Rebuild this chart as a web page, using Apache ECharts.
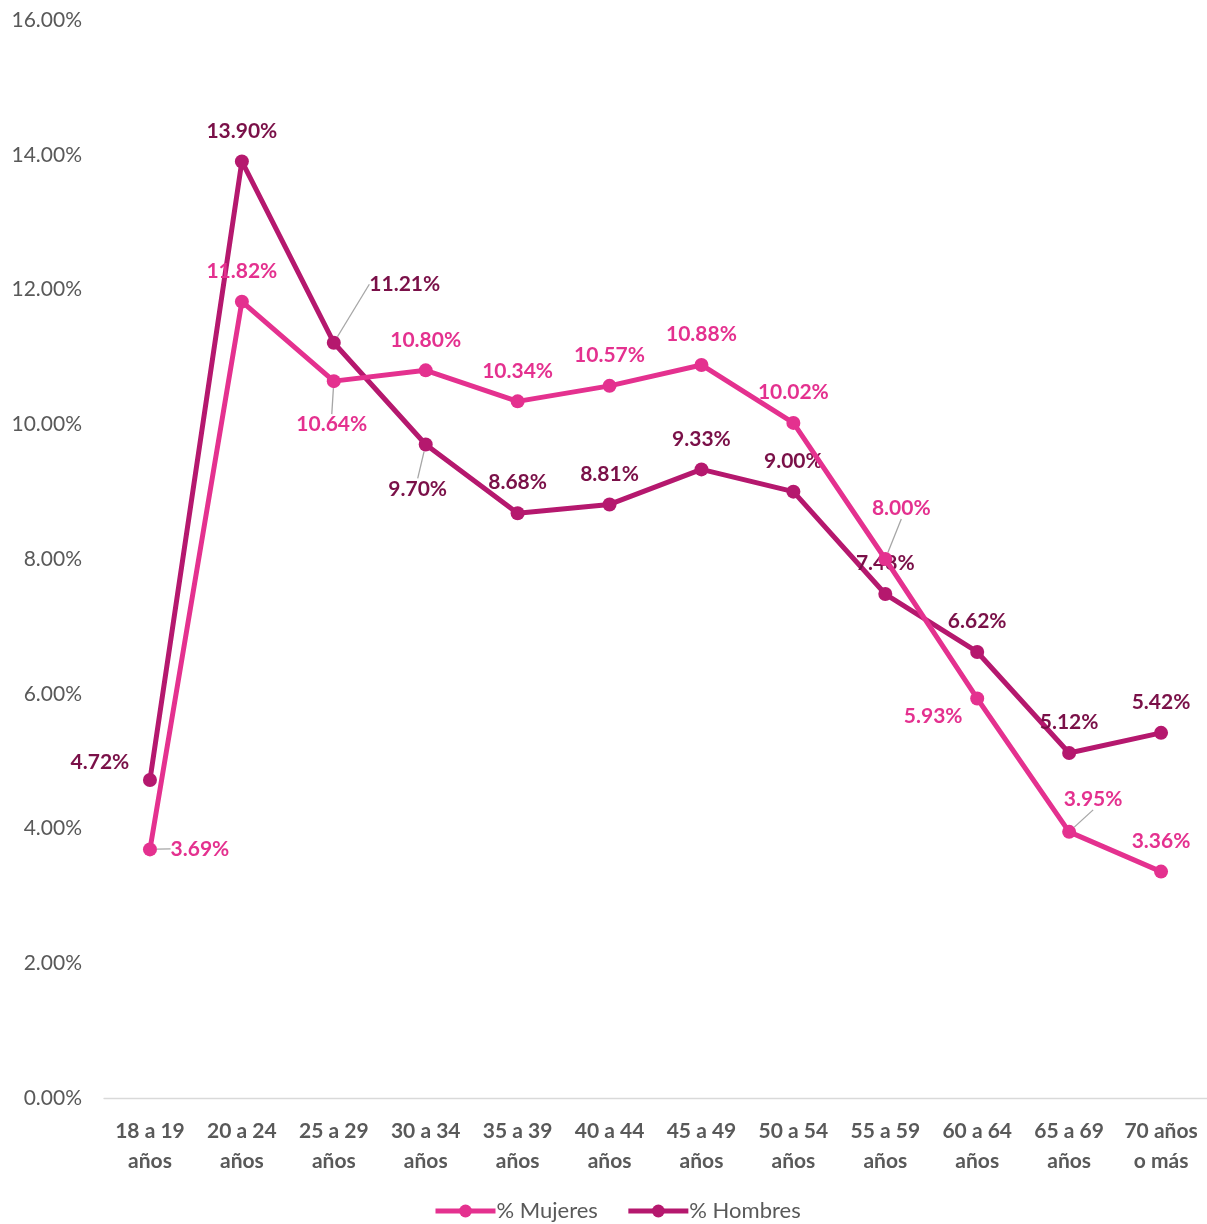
<!DOCTYPE html>
<html><head><meta charset="utf-8">
<script src="https://cdn.jsdelivr.net/npm/echarts@6/dist/echarts.min.js"></script>
<style>html,body{margin:0;padding:0;background:#fff}#c{width:1207px;height:1224px}</style>
</head><body><div id="c"></div>
<script>
const categories = ["18 a 19\naños","20 a 24\naños","25 a 29\naños","30 a 34\naños","35 a 39\naños","40 a 44\naños","45 a 49\naños","50 a 54\naños","55 a 59\naños","60 a 64\naños","65 a 69\naños","70 años\no más"];
const mujeres = [3.69, 11.82, 10.64, 10.80, 10.34, 10.57, 10.88, 10.02, 8.00, 5.93, 3.95, 3.36];
const hombres = [4.72, 13.90, 11.21, 9.70, 8.68, 8.81, 9.33, 9.00, 7.48, 6.62, 5.12, 5.42];
const seriesNames = ["% Mujeres", "% Hombres"];

const C_M = '#E4318F', C_H = '#B5186E', C_HL = '#7A1048';
const FONT = 'Lato, "Open Sans", sans-serif';

// label tweaks (style only): [dx, dy, showLeaderLine]
const mMoves = {0: [50, 30, 1], 2: [-2, 74, 1], 8: [16, -20, 1], 9: [-44, 48, 0], 10: [24, -2, 1]};
const hMoves = {0: [-50, 13, 0], 2: [71, -28, 1], 3: [-8, 75, 1]};

function buildData(vals, moves) {
  return vals.map((v, i) => ({value: v, labelLine: {show: !!(moves[i] && moves[i][2])}}));
}

function mkSeries(name, vals, color, labelColor, moves) {
  return {
    name, type: 'line', data: buildData(vals, moves),
    symbol: 'circle', symbolSize: 14,
    lineStyle: {width: 5, color},
    itemStyle: {color},
    label: {
      show: true, position: 'top', distance: 13,
      color: labelColor, fontFamily: FONT, fontWeight: 'bold', fontSize: 21,
      formatter: p => p.value.toFixed(2) + '%'
    },
    labelLine: {show: false, lineStyle: {color: '#A6A6A6', width: 1.3}},
    labelLayout: p => moves[p.dataIndex] ? {dx: moves[p.dataIndex][0], dy: moves[p.dataIndex][1]} : {},
    z: name === seriesNames[0] ? 3 : 2
  };
}

const chart = echarts.init(document.getElementById('c'));
chart.setOption({
  animation: false,
  grid: {left: 104, right: 0, top: 20, bottom: 126},
  legend: {
    bottom: -3, left: 428, itemWidth: 60, itemHeight: 16, itemGap: 28,
    lineStyle: {width: 5},
    textStyle: {color: '#595959', fontFamily: FONT, fontSize: 22, padding: [0, 0, 0, -4]},
    data: seriesNames
  },
  xAxis: {
    type: 'category', data: categories, boundaryGap: true,
    axisLine: {lineStyle: {color: '#D9D9D9', width: 1.3}},
    axisTick: {show: false},
    axisLabel: {color: '#595959', fontFamily: FONT, fontWeight: 'bold', fontSize: 21, lineHeight: 30, margin: 18, interval: 0}
  },
  yAxis: {
    type: 'value', min: 0, max: 16, interval: 2,
    axisLine: {show: false}, axisTick: {show: false}, splitLine: {show: false},
    axisLabel: {color: '#595959', fontFamily: FONT, fontSize: 21, margin: 22, formatter: v => v.toFixed(2) + '%'}
  },
  series: [
    mkSeries(seriesNames[0], mujeres, C_M, C_M, mMoves),
    mkSeries(seriesNames[1], hombres, C_H, C_HL, hMoves)
  ]
});
</script></body></html>
